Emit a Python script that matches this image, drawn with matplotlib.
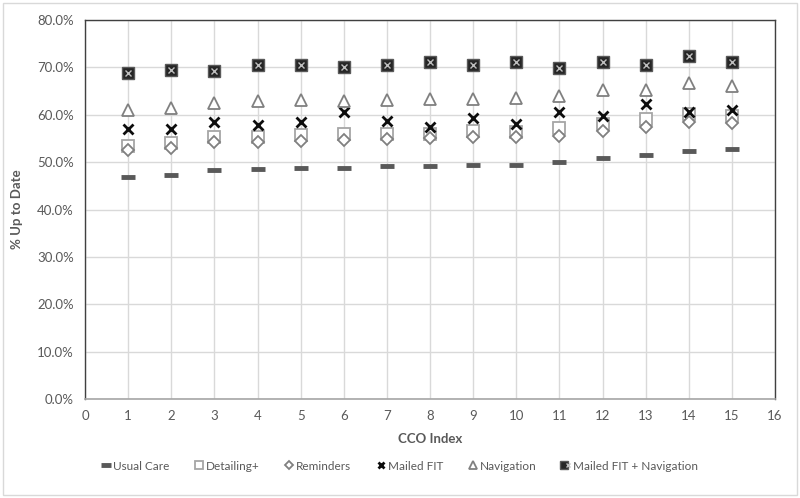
import matplotlib
matplotlib.use("Agg")
import matplotlib.pyplot as plt
from matplotlib.ticker import PercentFormatter
from matplotlib.legend_handler import HandlerTuple
from matplotlib.patches import Rectangle

plt.rcParams['font.family'] = ['Lato', 'DejaVu Sans']

cco = list(range(1, 16))
usual_care = [46.8, 47.3, 48.3, 48.6, 48.7, 48.8, 49.1, 49.2, 49.4, 49.4, 50.1, 50.8, 51.6, 52.4, 52.7]
detailing = [53.5, 54.0, 55.2, 55.4, 55.7, 55.9, 55.9, 56.0, 56.5, 56.3, 57.1, 58.0, 59.1, 60.2, 59.8]
reminders = [52.6, 53.0, 54.3, 54.3, 54.5, 54.7, 54.8, 55.1, 55.2, 55.4, 55.6, 56.6, 57.5, 58.4, 58.2]
mailed_fit = [57.0, 57.0, 58.4, 57.8, 58.5, 60.5, 58.7, 57.5, 59.4, 58.0, 60.6, 59.7, 62.2, 60.6, 60.9]
navigation = [61.0, 61.4, 62.5, 62.9, 63.1, 63.0, 63.2, 63.3, 63.3, 63.6, 63.9, 65.2, 65.2, 66.8, 66.1]
fit_nav = [68.9, 69.5, 69.2, 70.5, 70.5, 70.0, 70.4, 71.2, 70.5, 71.2, 69.8, 71.2, 70.5, 72.5, 71.2]

labels = ["Usual Care", "Detailing+", "Reminders", "Mailed FIT", "Navigation", "Mailed FIT + Navigation"]

fig = plt.figure(figsize=(8.0, 4.98), dpi=100)
ax = fig.add_axes([85/800, 1-399/498, (775-85)/800, (399-20)/498])

h1, = ax.plot(cco, usual_care, ls='none', marker='_', ms=10, mew=3.5, color='#595959')
h2, = ax.plot(cco, detailing, ls='none', marker='s', ms=8, mfc='white', mec='#a6a6a6', mew=1.3)
h3, = ax.plot(cco, reminders, ls='none', marker='D', ms=6.5, mfc='white', mec='#808080', mew=1.3)
h4, = ax.plot(cco, mailed_fit, ls='none', marker='x', ms=7, mew=2, color='#0d0d0d')
h5, = ax.plot(cco, navigation, ls='none', marker='^', ms=9, mfc='white', mec='#808080', mew=1.3)
h6a, = ax.plot(cco, fit_nav, ls='none', marker='s', ms=9, mfc='#262626', mec='#595959', mew=1)
h6b, = ax.plot(cco, fit_nav, ls='none', marker='x', ms=5, mew=1, color='#bfbfbf')

ax.set_xlim(0, 16)
ax.set_ylim(0, 80)
ax.set_xticks(range(0, 17))
ax.set_yticks(range(0, 81, 10))
ax.yaxis.set_major_formatter(PercentFormatter(decimals=1))
ax.grid(True, color='#d9d9d9', lw=1)
ax.set_axisbelow(True)
ax.tick_params(length=0, labelsize=9.5, colors='#595959', pad=8)
for s in ['left', 'top', 'right']:
    ax.spines[s].set_color('#404040')
    ax.spines[s].set_linewidth(1)
ax.spines['bottom'].set_color('#a6a6a6')
ax.spines['bottom'].set_linewidth(1.2)

ax.set_xlabel("CCO Index", fontsize=9.5, fontweight='bold', color='#595959', labelpad=8)
ax.set_ylabel("% Up to Date", fontsize=9.5, fontweight='bold', color='#595959', labelpad=10)

leg = fig.legend([h1, h2, h3, h4, h5, (h6a, h6b)], labels,
                 handler_map={tuple: HandlerTuple(ndivide=None, pad=0)},
                 loc='center', bbox_to_anchor=(0.5, 1-466/498), ncol=6, frameon=False,
                 fontsize=8.5, labelcolor='#595959', handlelength=0.6, handletextpad=0.3,
                 columnspacing=2.2, markerscale=0.7)

fig.patches.append(Rectangle((3/800, 3/498), 794/800, 492/498, transform=fig.transFigure,
                             fill=False, edgecolor='#d9d9d9', lw=1))

fig.savefig("out.png", dpi=100)
